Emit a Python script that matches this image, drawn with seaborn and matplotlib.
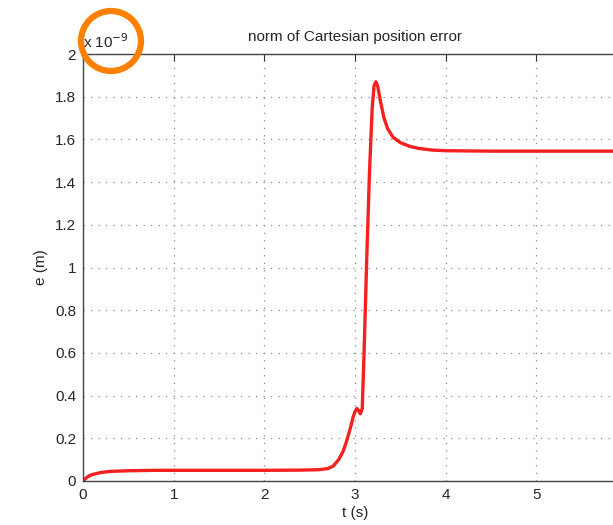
import numpy as np
import pandas as pd
import matplotlib
matplotlib.use("Agg")
import matplotlib.pyplot as plt
import seaborn as sns
from matplotlib.patches import Ellipse

# data (e in units of 1e-9 m)
t = [0.0, 0.05, 0.1, 0.2, 0.3, 0.5, 0.8, 1.0, 1.5, 2.0, 2.4, 2.6, 2.7, 2.76, 2.82,
     2.87, 2.91, 2.95, 2.98, 3.0, 3.02, 3.04, 3.06, 3.08, 3.1, 3.13, 3.16, 3.19,
     3.21, 3.23, 3.25, 3.28, 3.32, 3.36, 3.42, 3.5, 3.6, 3.7, 3.85, 4.0, 4.5, 5.0,
     5.5, 6.0]
e = [0.0, 0.02, 0.03, 0.04, 0.045, 0.048, 0.05, 0.05, 0.05, 0.05, 0.051, 0.053,
     0.058, 0.07, 0.1, 0.14, 0.19, 0.25, 0.3, 0.325, 0.34, 0.33, 0.315, 0.34,
     0.6, 1.05, 1.45, 1.75, 1.85, 1.87, 1.85, 1.78, 1.70, 1.65, 1.61, 1.585,
     1.568, 1.558, 1.55, 1.547, 1.545, 1.545, 1.545, 1.545]
xticks = [0, 1, 2, 3, 4, 5]
xtick_labels = ["0", "1", "2", "3", "4", "5"]
yticks = [0, 0.2, 0.4, 0.6, 0.8, 1.0, 1.2, 1.4, 1.6, 1.8, 2.0]
ytick_labels = ["0", "0.2", "0.4", "0.6", "0.8", "1", "1.2", "1.4", "1.6", "1.8", "2"]

df = pd.DataFrame({"t": t, "e": e})

sns.set_style("white")
plt.rcParams['font.family'] = ['Liberation Sans', 'DejaVu Sans']

fig = plt.figure(figsize=(6.13, 5.25), dpi=100)
ax = fig.add_axes([83/613, 44/525, (627-83)/613, (481-54)/525])
sns.lineplot(data=df, x="t", y="e", ax=ax, color="#f52020", linewidth=2.4)

ax.set_xlim(0, 6)
ax.set_ylim(0, 2)
ax.set_xticks(xticks)
ax.set_xticklabels(xtick_labels)
ax.set_yticks(yticks)
ax.set_yticklabels(ytick_labels)
ax.grid(True, linestyle=(0, (1, 5)), color="#888888", linewidth=0.9)
ax.tick_params(direction="in", length=5, top=True, right=True, labelsize=11,
               color="#333333", pad=5)
for s in ax.spines.values():
    s.set_color("#444444")
    s.set_linewidth(1.0)

ax.set_xlabel("t (s)", fontsize=11, labelpad=3)
ax.set_ylabel("e (m)", fontsize=11, labelpad=5)
ax.set_title("norm of Cartesian position error", fontsize=11, pad=9)

fig.text(83/613, 1 - 42/525, r"x 10$^{-9}$", fontsize=11, va="center", ha="left")
circ = Ellipse((111/613, 1 - 41/525), width=60/613, height=60/525,
               transform=fig.transFigure, fill=False, edgecolor="#ff8000",
               linewidth=4.5, clip_on=False)
fig.add_artist(circ)

fig.savefig("out.png", dpi=100)
